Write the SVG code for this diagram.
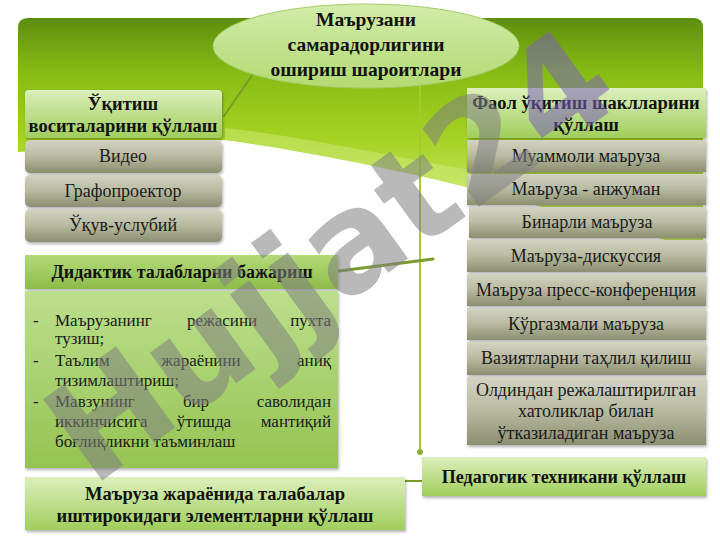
<svg xmlns="http://www.w3.org/2000/svg" width="720" height="540" viewBox="0 0 720 540">
<defs>
<linearGradient id="bg" x1="0" y1="18" x2="0" y2="200" gradientUnits="userSpaceOnUse">
<stop offset="0" stop-color="#5e8e0e"/>
<stop offset="0.3" stop-color="#86bc14"/>
<stop offset="0.65" stop-color="#a4d222"/>
<stop offset="1" stop-color="#c6e664"/>
</linearGradient>
<linearGradient id="ell" x1="0" y1="0" x2="0" y2="1">
<stop offset="0" stop-color="#d2ecaa"/>
<stop offset="1" stop-color="#b2da72"/>
</linearGradient>
<linearGradient id="hdr" x1="0" y1="0" x2="0" y2="1">
<stop offset="0" stop-color="#dcefbc"/>
<stop offset="1" stop-color="#a0ce5c"/>
</linearGradient>
<linearGradient id="grey" x1="0" y1="0" x2="0" y2="1">
<stop offset="0" stop-color="#d2d3c2"/>
<stop offset="0.5" stop-color="#b8baa0"/>
<stop offset="1" stop-color="#8c8e70"/>
</linearGradient>
<linearGradient id="did" x1="0" y1="0" x2="0" y2="1">
<stop offset="0" stop-color="#b4da78"/>
<stop offset="1" stop-color="#8cbc4a"/>
</linearGradient>
<linearGradient id="txtbox" x1="0" y1="0" x2="0" y2="1">
<stop offset="0" stop-color="#bcdf8c"/>
<stop offset="1" stop-color="#94c452"/>
</linearGradient>
<filter id="sh" x="-10%" y="-20%" width="120%" height="150%">
<feDropShadow dx="1" dy="2" stdDeviation="1.5" flood-color="#000" flood-opacity="0.3"/>
</filter>
<style>
.t{font-family:"Liberation Serif","Times New Roman",serif;font-size:18px;fill:#1a1a1a}
.l{font-size:17px}
.b{font-family:"Liberation Serif","Times New Roman",serif;font-size:18.5px;font-weight:bold;fill:#111}
.m{text-anchor:middle}
.e{text-anchor:end}
.hb{fill:url(#hdr);filter:url(#sh)}
.gb{fill:url(#grey);filter:url(#sh)}
.cn{fill:none;stroke-linecap:round}
</style>
</defs>

<path d="M18,28 Q18,18 28,18 L694,18 Q703,18 703,28 L703,250 L470,188 C400,170 300,150 225,140 L18,152 Z" fill="url(#bg)"/>
<path d="M225,128 C300,136 400,158 470,170 L470,188 C400,170 300,150 225,140 Z" fill="#cdea78" opacity="0.5"/>

<g id="connectors">
<line class="cn" x1="257" y1="68" x2="224" y2="116" stroke="#7a9c28" stroke-width="2"/>
<line class="cn" x1="420" y1="84" x2="420" y2="452" stroke="#a6ca2a" stroke-width="2"/>
<circle cx="420" cy="452" r="3" fill="#8cb030"/>
<line class="cn" x1="339" y1="271" x2="433" y2="259" stroke="#7c9c30" stroke-width="3"/>
<line class="cn" x1="405" y1="481" x2="422" y2="481" stroke="#7a9c28" stroke-width="2"/>
</g>

<g id="center">
<ellipse cx="366" cy="46" rx="153" ry="42" fill="url(#ell)" stroke="#a6cc66" stroke-width="1"/>
<text class="b m" x="366" y="26" style="font-size:19.5px">Маърузани</text>
<text class="b m" x="366" y="51" style="font-size:19.5px">самарадорлигини</text>
<text class="b m" x="366" y="76" style="font-size:19.5px">ошириш шароитлари</text>
</g>

<g id="n-vositalar">
<rect class="hb" x="25" y="90" width="197" height="48" rx="4"/>
<text class="b m" x="123" y="110">Ўқитиш</text>
<text class="b m" x="123" y="132">воситаларини қўллаш</text>
</g>
<g id="n-video"><rect class="gb" x="25" y="140" width="197" height="33" rx="5"/><text class="t m" x="123" y="162">Видео</text></g>
<g id="n-grafo"><rect class="gb" x="25" y="175" width="197" height="32" rx="5"/><text class="t m" x="123" y="197">Графопроектор</text></g>
<g id="n-ukuv"><rect class="gb" x="25" y="209" width="197" height="33" rx="5"/><text class="t m" x="123" y="231">Ўқув-услубий</text></g>

<g id="n-didaktik">
<rect x="25" y="255" width="313" height="34" fill="url(#did)" filter="url(#sh)"/>
<text class="b m" x="182" y="278" style="font-size:18px">Дидактик талабларни бажариш</text>
</g>
<g id="n-didaktik-list">
<rect x="25" y="291" width="313" height="177" fill="url(#txtbox)" filter="url(#sh)"/>
<text class="t l" x="33" y="326">-</text>
<text class="t l" x="55" y="326">Маърузанинг</text>
<text class="t l m" x="222" y="326">режасини</text>
<text class="t l e" x="331" y="326">пухта</text>
<text class="t l" x="55" y="344">тузиш;</text>
<text class="t l" x="33" y="366">-</text>
<text class="t l" x="55" y="366">Таълим</text>
<text class="t l m" x="201" y="366">жараёнини</text>
<text class="t l e" x="331" y="366">аниқ</text>
<text class="t l" x="55" y="386">тизимлаштириш;</text>
<text class="t l" x="33" y="407">-</text>
<text class="t l" x="55" y="407">Мавзунинг</text>
<text class="t l m" x="196" y="407">бир</text>
<text class="t l e" x="331" y="407">саволидан</text>
<text class="t l" x="55" y="427">иккинчисига</text>
<text class="t l m" x="204" y="427">ўтишда</text>
<text class="t l e" x="331" y="427">мантиқий</text>
<text class="t l" x="55" y="447">боғлиқликни таъминлаш</text>
</g>

<g id="n-ishtirok">
<rect class="hb" x="25" y="477" width="380" height="53"/>
<text class="b m" x="215" y="500">Маъруза жараёнида талабалар</text>
<text class="b m" x="215" y="522">иштирокидаги элементларни қўллаш</text>
</g>

<g id="n-faol">
<rect class="hb" x="467" y="88" width="239" height="50"/>
<text class="b m" x="586" y="109">Фаол ўқитиш шаклларини</text>
<text class="b m" x="586" y="131">қўллаш</text>
</g>
<g id="n-muammoli"><rect class="gb" x="467" y="140" width="239" height="32"/><text class="t m" x="586" y="162">Муаммоли маъруза</text></g>
<g id="n-anjuman"><rect class="gb" x="467" y="174" width="239" height="31"/><text class="t m" x="586" y="195">Маъруза - анжуман</text></g>
<g id="n-binarli"><rect class="gb" x="469" y="207" width="237" height="31"/><text class="t m" x="587" y="228">Бинарли маъруза</text></g>
<g id="n-diskussiya"><rect class="gb" x="467" y="240" width="239" height="32"/><text class="t m" x="586" y="262">Маъруза-дискуссия</text></g>
<g id="n-press"><rect class="gb" x="467" y="274" width="239" height="32"/><text class="t m" x="586" y="296">Маъруза пресс-конференция</text></g>
<g id="n-kurgazmali"><rect class="gb" x="467" y="308" width="239" height="32"/><text class="t m" x="586" y="330">Кўргазмали маъруза</text></g>
<g id="n-vaziyat"><rect class="gb" x="467" y="342" width="239" height="33"/><text class="t m" x="586" y="364">Вазиятларни таҳлил қилиш</text></g>
<g id="n-oldindan">
<rect class="gb" x="467" y="377" width="239" height="68"/>
<text class="t m" x="586" y="396">Олдиндан режалаштирилган</text>
<text class="t m" x="586" y="417">хатоликлар билан</text>
<text class="t m" x="586" y="439">ўтказиладиган маъруза</text>
</g>

<g id="n-pedagogik">
<rect class="hb" x="422" y="457" width="284" height="39"/>
<text class="b m" x="564" y="483" style="font-size:18px">Педагогик техникани қўллаш</text>
</g>

<g id="watermark" opacity="0.55">
<text transform="translate(92,488) rotate(-36)" style="font-family:'DejaVu Sans',sans-serif;font-weight:bold;font-size:138px" fill="#808080">Hujjat2<tspan fill="#7a62b8">4</tspan></text>
</g>
</svg>
